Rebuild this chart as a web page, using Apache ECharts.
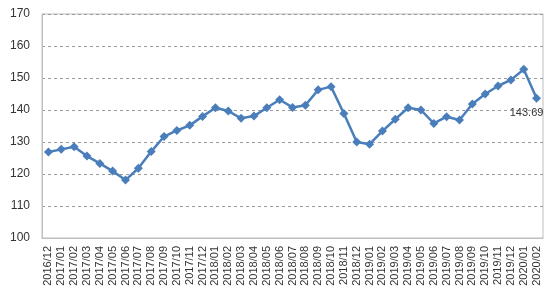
<!DOCTYPE html>
<html><head><meta charset="utf-8">
<script src="https://cdn.jsdelivr.net/npm/echarts@6/dist/echarts.min.js"></script>
<style>html,body{margin:0;padding:0;background:#fff}#c{width:555px;height:306px}</style>
</head><body><div id="c"></div>
<script>
var categories = ['2016/12','2017/01','2017/02','2017/03','2017/04','2017/05','2017/06','2017/07','2017/08','2017/09','2017/10','2017/11','2017/12','2018/01','2018/02','2018/03','2018/04','2018/05','2018/06','2018/07','2018/08','2018/09','2018/10','2018/11','2018/12','2019/01','2019/02','2019/03','2019/04','2019/05','2019/06','2019/07','2019/08','2019/09','2019/10','2019/11','2019/12','2020/01','2020/02'];
var values = [126.9,127.7,128.5,125.6,123.3,120.9,118.1,121.8,127.0,131.7,133.6,135.2,138.0,140.7,139.7,137.4,138.1,140.7,143.2,140.8,141.5,146.3,147.3,138.9,130.0,129.3,133.4,137.1,140.7,140.0,135.8,137.9,136.9,141.9,145.0,147.5,149.4,152.7,143.69];
var labelIndex = values.length - 1;
var chart = echarts.init(document.getElementById('c'), null, {renderer:'canvas'});
chart.setOption({
  animation:false,
  grid:{left:42,right:12,top:14,bottom:68,show:true,borderColor:'#bfbfbf',borderWidth:1},
  xAxis:{type:'category',data:categories,boundaryGap:true,
    axisLine:{show:true,lineStyle:{color:'#bfbfbf'}},axisTick:{show:false},
    axisLabel:{rotate:90,interval:0,margin:8,fontSize:11,color:'#333',fontFamily:'Liberation Sans, Arial'}},
  yAxis:{type:'value',min:100,max:170,interval:10,
    axisLine:{show:true,lineStyle:{color:'#bfbfbf'}},axisTick:{show:false},
    axisLabel:{fontSize:12,color:'#333',margin:12,fontFamily:'Liberation Sans, Arial'},
    splitLine:{show:true,lineStyle:{type:[3,3],color:'#9a9a9a'}}},
  series:[{type:'line',data:values.map(function(v,i){
      return i===labelIndex ? {value:v,label:{show:true,position:'bottom',offset:[-10,0],formatter:function(p){return p.value.toFixed(2);},fontSize:11,color:'#333',fontFamily:'Liberation Sans, Arial'}} : v;}),
    symbol:'diamond',symbolSize:9,
    lineStyle:{color:'#4a7ebb',width:2.5},itemStyle:{color:'#4a7ebb'}}]
});
</script></body></html>
